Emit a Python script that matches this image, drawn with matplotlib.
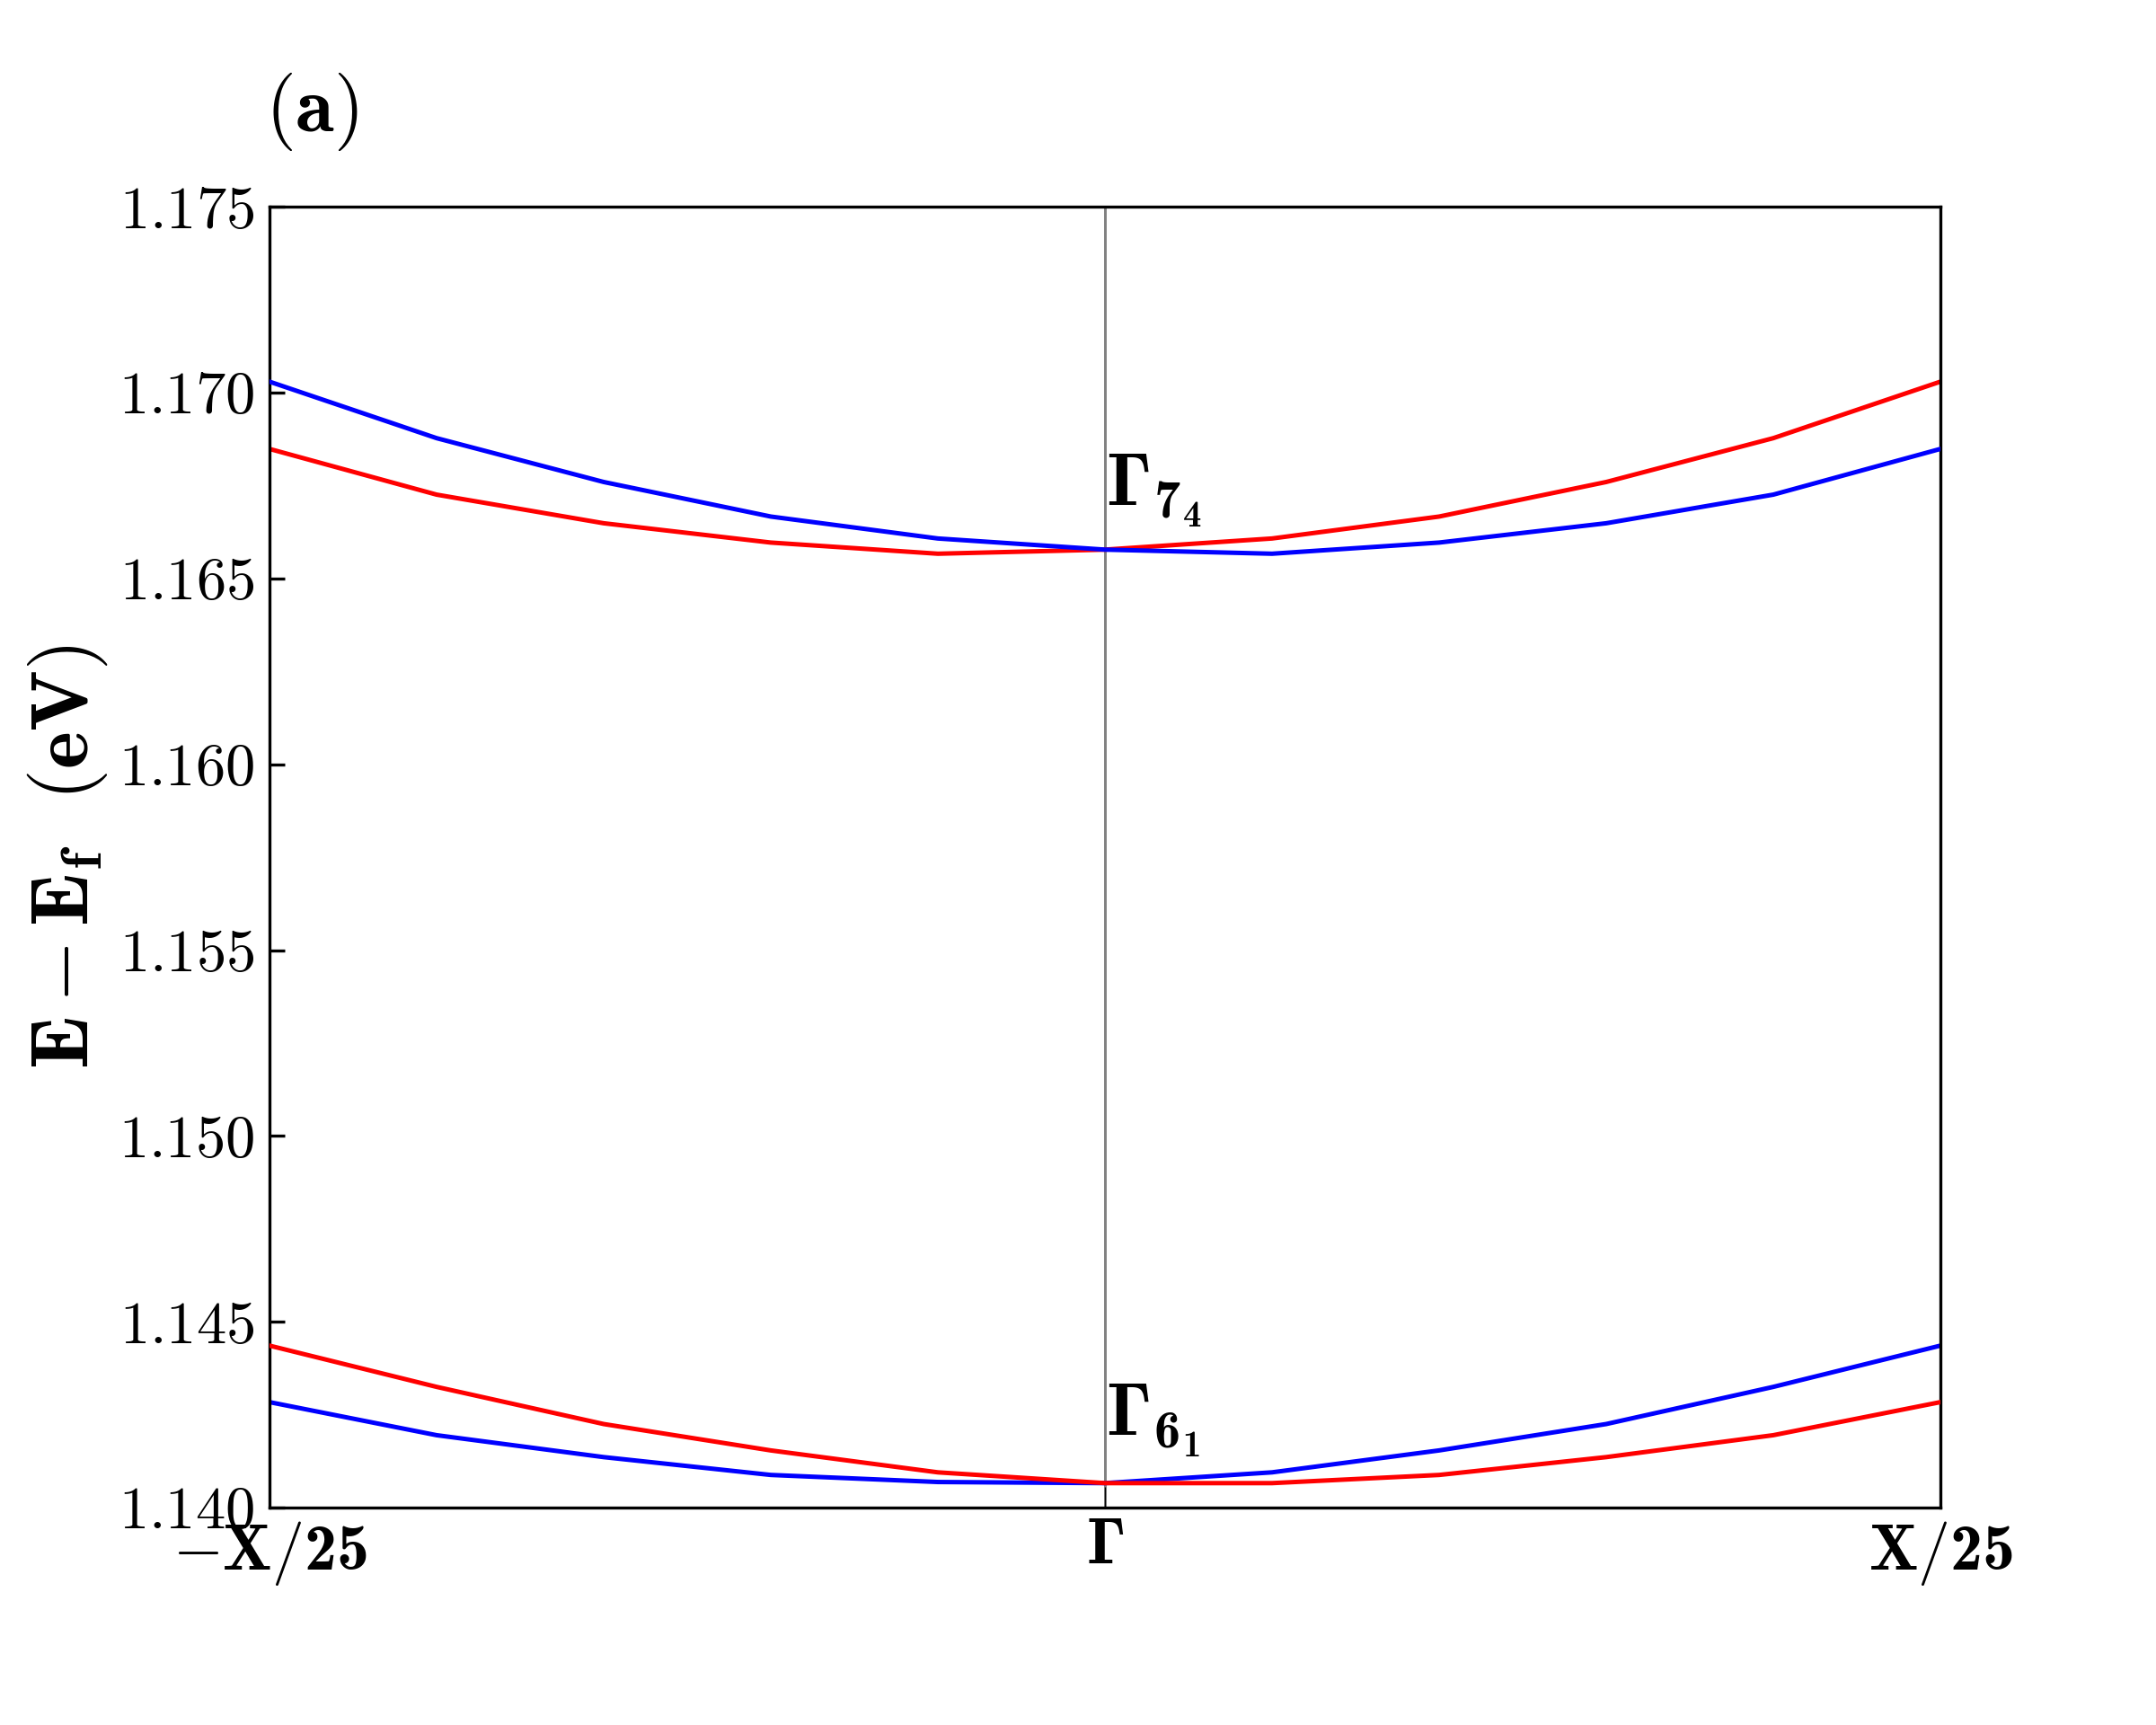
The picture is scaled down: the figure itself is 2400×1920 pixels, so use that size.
import matplotlib
matplotlib.use("Agg")
import matplotlib.pyplot as plt
import numpy as np

plt.rcParams['mathtext.fontset'] = 'custom'
plt.rcParams['mathtext.rm'] = 'cmr10'
plt.rcParams['mathtext.bf'] = 'cmb10'
plt.rcParams['mathtext.it'] = 'cmmi10'
plt.rcParams['mathtext.fallback'] = 'cm'
plt.rcParams['font.family'] = 'serif'
plt.rcParams['font.serif'] = ['cmr10', 'DejaVu Serif']
plt.rcParams['axes.formatter.use_mathtext'] = True

# k-path sample index (-X/25 ... Gamma ... X/25)
k_index = [-5, -4, -3, -2, -1, 0, 1, 2, 3, 4, 5]

upper_blue = [1.17030, 1.16878, 1.16760, 1.16667, 1.16608, 1.16578, 1.16567, 1.16597, 1.16649, 1.16726, 1.16849]
upper_red = [1.16849, 1.16726, 1.16649, 1.16597, 1.16567, 1.16578, 1.16608, 1.16667, 1.16760, 1.16878, 1.17030]
lower_red = [1.14436, 1.14325, 1.14225, 1.14154, 1.14095, 1.14066, 1.14066, 1.14088, 1.14136, 1.14195, 1.14284]
lower_blue = [1.14284, 1.14195, 1.14136, 1.14088, 1.14069, 1.14066, 1.14095, 1.14154, 1.14225, 1.14325, 1.14436]

y_ticks = [1.140, 1.145, 1.150, 1.155, 1.160, 1.165, 1.170, 1.175]
y_ticklabels = ["1.140", "1.145", "1.150", "1.155", "1.160", "1.165", "1.170", "1.175"]
x_tick_pos = [-5, 0, 5]
GAM = "\u00a1"  # Gamma glyph slot in the BaKoMa cmb10 font
x_ticklabels = [r"$-\mathbf{X}/\mathbf{25}$", "$\\mathbf{" + GAM + "}$", r"$\mathbf{X}/\mathbf{25}$"]

fig = plt.figure(figsize=(8, 6.4), dpi=300)
ax = fig.add_axes([0.125, 0.126, 0.775, 0.754])

x = np.array(k_index)
ax.axvline(0, color='#808080', lw=0.7, zorder=1)
ax.plot(x, upper_red, color='#ff0000', lw=1.2, zorder=2)
ax.plot(x, upper_blue, color='#0000ff', lw=1.2, zorder=3)
ax.plot(x, lower_blue, color='#0000ff', lw=1.2, zorder=2)
ax.plot(x, lower_red, color='#ff0000', lw=1.2, zorder=3)

ax.set_xlim(-5, 5)
ax.set_ylim(1.140, 1.175)
ax.set_yticks(y_ticks)
ax.set_yticklabels(["$" + s + "$" for s in y_ticklabels], fontsize=16)
ax.set_xticks(x_tick_pos)
ax.set_xticklabels(x_ticklabels, fontsize=17.3)
ax.tick_params(axis='y', direction='in', length=4, width=0.8, pad=4)
ax.tick_params(axis='x', direction='in', length=5.5, width=0.3, pad=3)
for s in ax.spines.values():
    s.set_linewidth(0.8)

ax.text(0.005, 1.16698, "$\\mathbf{" + GAM + "_{7_4}}$", fontsize=20, ha='left', va='baseline')
ax.text(0.005, 1.14196, "$\\mathbf{" + GAM + "_{6_1}}$", fontsize=20, ha='left', va='baseline')

ax.set_ylabel(r"$\mathbf{E}-\mathbf{E_f}\ \ (\mathbf{eV})$", fontsize=21.5)
ax.yaxis.set_label_coords(-0.0955, 0.5)
fig.text(0.123, 0.935, r"$(\mathbf{a})$", fontsize=21, ha='left', va='center')

fig.savefig("out.png", dpi=300)
